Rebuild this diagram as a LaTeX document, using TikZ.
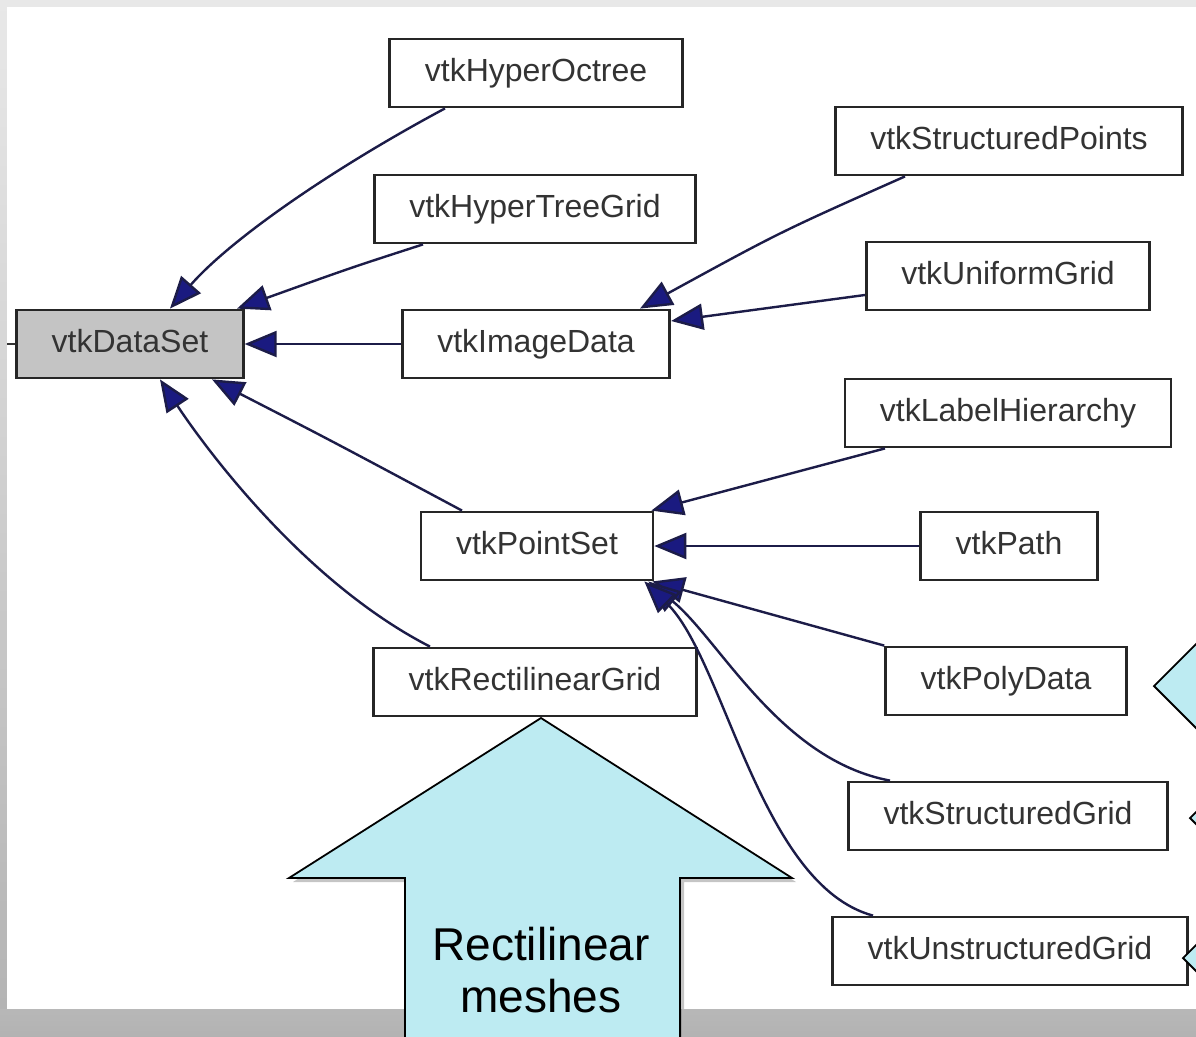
\documentclass[tikz,border=0pt]{standalone}
\usepackage{fontspec}
\setmainfont{Liberation Sans}
\usetikzlibrary{arrows.meta,shadows}
\definecolor{edgeblue}{HTML}{1C1C48}
\definecolor{headblue}{HTML}{1A1A80}
\definecolor{calloutcyan}{HTML}{BDEBF2}

\begin{document}
\begin{tikzpicture}[x=1pt,y=-1pt,
  cls/.style={draw=black!85, line width=2.8pt, fill=white, minimum height=68pt,
    inner xsep=35pt, text height=23pt, text depth=7pt,
    font=\fontsize{32}{36}\selectfont, text=black!80},
  base/.style={cls, fill=black!23},
  inherit/.style={draw=edgeblue, line width=2.4pt,
    -{Triangle[length=32pt,width=26pt,fill=headblue]}},
  callout/.style={fill=calloutcyan, draw=black, line width=1.8pt, line join=miter}
]
\useasboundingbox (0,0) rectangle (1196,1036);
\clip (0,0) rectangle (1196,1036);
%\draw[help lines,step=100] (0,0) grid (1196,1036);

% frame and sheet
\shade[top color=black!9, bottom color=black!30] (0,0) rectangle (1196,1036);
\fill[white] (7,7) rectangle (1196,1009);

% class boxes
\node[base] (dataset)      at (130,344)  {vtkDataSet};
\node[cls]  (hyperoctree)  at (536,73)   {vtkHyperOctree};
\node[cls]  (hypertree)    at (535,209)  {vtkHyperTreeGrid};
\node[cls]  (imagedata)    at (536,344)  {vtkImageData};
\node[cls]  (structpts)    at (1009,141) {vtkStructuredPoints};
\node[cls]  (uniform)      at (1008,276) {vtkUniformGrid};
\node[cls]  (labelh)       at (1008,413) {vtkLabelHierarchy};
\node[cls]  (pointset)     at (537,546)  {vtkPointSet};
\node[cls]  (path)         at (1009,546) {vtkPath};
\node[cls]  (rectgrid)     at (535,682)  {vtkRectilinearGrid};
\node[cls]  (polydata)     at (1006,681) {vtkPolyData};
\node[cls]  (structgrid)   at (1008,816) {vtkStructuredGrid};
\node[cls]  (unstructgrid) at (1010,951) {vtkUnstructuredGrid};

% stub towards the parent class
\coordinate (parent) at (7,344);
\draw[draw=black!80, line width=2.4pt] (dataset.west) -- (parent);

% children of vtkDataSet
\draw[inherit] ([xshift=-91pt]hyperoctree.south) .. controls (330,170) and (230,240) .. ([xshift=40pt]dataset.north);
\draw[inherit] ([xshift=-112pt]hypertree.south) .. controls (350,268) .. ([xshift=107pt]dataset.north);
\draw[inherit] (imagedata.west) -- (dataset.east);
\draw[inherit] ([xshift=-75pt]pointset.north) .. controls (330,440) .. ([xshift=82pt]dataset.south);
\draw[inherit] ([xshift=-105pt]rectgrid.north) .. controls (300,580) and (200,440) .. ([xshift=30pt]dataset.south);

% children of vtkImageData
\draw[inherit] ([xshift=-104pt]structpts.south) .. controls (780,232) .. ([xshift=104pt]imagedata.north);
\draw[inherit] ([yshift=-19pt]uniform.west) -- ([yshift=23pt]imagedata.east);

% children of vtkPointSet
\draw[inherit] ([xshift=-123pt]labelh.south) -- ([xshift=-3pt]pointset.north east);
\draw[inherit] (path.west) -- (pointset.east);
\draw[inherit] (polydata.north west) -- ([xshift=-2pt]pointset.south east);
\draw[inherit] ([xshift=-118pt]structgrid.north) .. controls (780,760) and (720,640) .. ([xshift=-6pt]pointset.south east);
\draw[inherit] ([xshift=-137pt]unstructgrid.north) .. controls (760,885) and (725,660) .. ([xshift=-10pt]pointset.south east);

% callout arrows
\filldraw[callout, drop shadow={opacity=0.45, shadow xshift=4pt, shadow yshift=-4pt}]
  (541,718) -- (792,878) -- (680,878) -- (680,1050) -- (405,1050) -- (405,878) -- (289,878) -- cycle;
\node[align=center, font=\fontsize{46}{52}\selectfont] (meshlabel) at (541,970) {Rectilinear\\meshes};

\filldraw[callout] (1154,686) -- (1214,626) -- (1214,746) -- cycle;
\filldraw[callout] (1190,818) -- (1204,804) -- (1204,832) -- cycle;
\filldraw[callout] (1183,958) -- (1204,937) -- (1204,979) -- cycle;

% bottom strip beside the arrow
\shade[top color=black!28, bottom color=black!30] (0,1009) rectangle (403,1036);
\shade[top color=black!28, bottom color=black!30] (682,1009) rectangle (1196,1036);
\end{tikzpicture}
\end{document}
